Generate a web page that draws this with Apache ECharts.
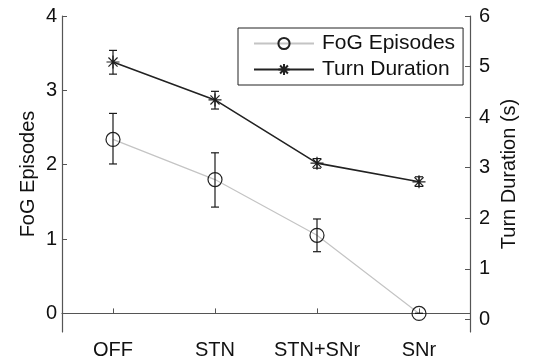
<!DOCTYPE html>
<html>
<head>
<meta charset="utf-8">
<script src="https://cdn.jsdelivr.net/npm/echarts@6/dist/echarts.min.js"></script>
<style>
  html, body { margin: 0; padding: 0; background: #fff; }
  #main { width: 538px; height: 363px; }
</style>
</head>
<body>
<div id="main"></div>
<script>
// conditions along the x axis
var categories = ['OFF', 'STN', 'STN+SNr', 'SNr'];

// FoG episodes (left axis), mean and error bar ends
var fogMean = [2.34, 1.80, 1.05, 0.0];
var fogLow  = [2.01, 1.43, 0.83, 0.0];
var fogHigh = [2.69, 2.16, 1.27, 0.0];

// turn duration in seconds (right axis)
var turnMean = [5.09, 4.34, 3.09, 2.72];
var turnLow  = [4.85, 4.16, 2.99, 2.63];
var turnHigh = [5.32, 4.51, 3.18, 2.82];

var leftTicks = [0, 1, 2, 3, 4];
var rightTicks = [0, 1, 2, 3, 4, 5, 6];

var font = "'Liberation Sans', Arial, sans-serif";
var star = 'path://M0,-10L0,10M-10,0L10,0M-7,-7L7,7M-7,7L7,-7';

function errData(low, high) {
    return low.map(function (v, i) { return [i, v, high[i]]; });
}

// error bar with caps, drawn through the axis scales
function renderErr(params, api) {
    var lo = api.coord([api.value(0), api.value(1)]);
    var hi = api.coord([api.value(0), api.value(2)]);
    var w = 4;
    var style = { stroke: '#1a1a1a', lineWidth: 1.2, fill: null };
    return {
        type: 'group',
        children: [
            { type: 'line', shape: { x1: lo[0], y1: lo[1], x2: hi[0], y2: hi[1] }, style: style },
            { type: 'line', shape: { x1: lo[0] - w, y1: lo[1], x2: lo[0] + w, y2: lo[1] }, style: style },
            { type: 'line', shape: { x1: hi[0] - w, y1: hi[1], x2: hi[0] + w, y2: hi[1] }, style: style }
        ]
    };
}

var myChart = echarts.init(document.getElementById('main'));

var axisLine = { show: true, lineStyle: { color: '#555', width: 1.2 } };

var option = {
    animation: false,
    backgroundColor: '#fff',
    textStyle: { fontFamily: font },
    grid: { left: 62, right: 68, top: 16, bottom: 31 },
    legend: {
        orient: 'vertical',
        left: 238,
        top: 28,
        width: 221,
        padding: [5, 8, 5, 15],
        itemGap: 5,
        itemWidth: 60,
        itemHeight: 14,
        borderColor: '#222',
        borderWidth: 1,
        backgroundColor: '#fff',
        textStyle: { fontFamily: font, fontSize: 21, color: '#111', padding: [0, 0, 0, 3] },
        data: ['FoG Episodes', 'Turn Duration']
    },
    xAxis: {
        type: 'category',
        data: categories,
        boundaryGap: true,
        axisLine: axisLine,
        axisTick: { show: true, inside: true, alignWithLabel: true, length: 5, lineStyle: { color: '#555' } },
        axisLabel: { interval: 0, fontSize: 20, color: '#111', margin: 8, fontFamily: font },
        splitLine: { show: false }
    },
    yAxis: [
        {
            type: 'value',
            min: -0.25,
            max: 4,
            name: 'FoG Episodes',
            nameLocation: 'middle',
            nameGap: 24,
            nameMoveOverlap: false,
            nameTextStyle: { fontSize: 20, color: '#111', fontFamily: font },
            axisLine: axisLine,
            axisTick: { show: true, inside: true, length: 5, customValues: leftTicks, lineStyle: { color: '#555' } },
            axisLabel: { fontSize: 20, color: '#111', margin: 5, customValues: leftTicks, fontFamily: font },
            splitLine: { show: false }
        },
        {
            type: 'value',
            min: -0.25,
            max: 6,
            name: 'Turn Duration (s)',
            nameLocation: 'middle',
            nameGap: 29,
            nameMoveOverlap: false,
            nameRotate: 90,
            nameTextStyle: { fontSize: 20, color: '#111', fontFamily: font },
            axisLine: axisLine,
            axisTick: { show: true, inside: true, length: 5, customValues: rightTicks, lineStyle: { color: '#555' } },
            axisLabel: { fontSize: 20, color: '#111', margin: 9, customValues: rightTicks, fontFamily: font },
            splitLine: { show: false }
        }
    ],
    series: [
        {
            name: 'FoG Episodes',
            type: 'line',
            yAxisIndex: 0,
            data: fogMean,
            symbol: 'circle',
            symbolSize: 14,
            lineStyle: { color: '#c4c4c4', width: 1.2 },
            itemStyle: { color: 'rgba(255,255,255,0)', borderColor: '#222', borderWidth: 1.2 },
            z: 3
        },
        {
            name: 'Turn Duration',
            type: 'line',
            yAxisIndex: 1,
            data: turnMean,
            symbol: star,
            symbolSize: 13,
            lineStyle: { color: '#222', width: 1.6 },
            itemStyle: { color: 'rgba(255,255,255,0)', borderColor: '#222', borderWidth: 1.2 },
            z: 3
        },
        {
            name: 'fogErr',
            type: 'custom',
            yAxisIndex: 0,
            renderItem: renderErr,
            data: errData(fogLow, fogHigh),
            silent: true,
            z: 4
        },
        {
            name: 'turnErr',
            type: 'custom',
            yAxisIndex: 1,
            renderItem: renderErr,
            data: errData(turnLow, turnHigh),
            silent: true,
            z: 4
        }
    ]
};

myChart.setOption(option);
</script>
</body>
</html>
